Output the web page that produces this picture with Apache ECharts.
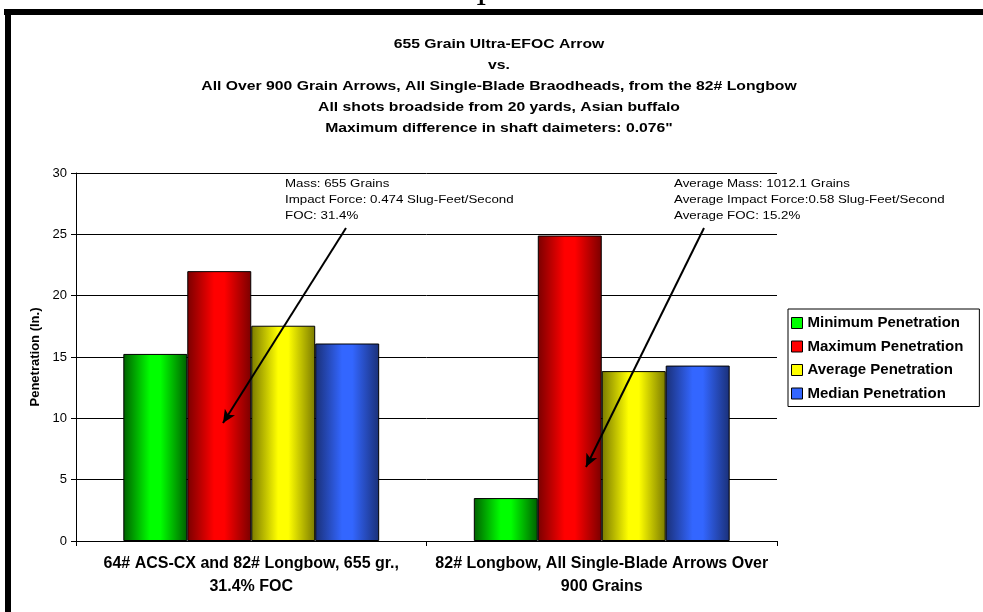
<!DOCTYPE html>
<html>
<head>
<meta charset="utf-8">
<script src="https://cdn.jsdelivr.net/npm/echarts@6/dist/echarts.min.js"></script>
<style>
html,body{margin:0;padding:0;background:#fff;}
#chart{width:983px;height:612px;}
</style>
</head>
<body>
<div id="chart"></div>
<script>
// ---- data ----
const categories = [
  '64# ACS-CX and 82# Longbow, 655 gr.,\n31.4% FOC',
  '82# Longbow, All Single-Blade Arrows Over\n900 Grains'
];
const seriesNames = ['Minimum Penetration', 'Maximum Penetration', 'Average Penetration', 'Median Penetration'];
const minimumPenetration = [15.25, 3.5];
const maximumPenetration = [22.0, 24.9];
const averagePenetration = [17.55, 13.85];
const medianPenetration = [16.1, 14.3];
const yAxisMin = 0, yAxisMax = 30, yAxisInterval = 5;
const yAxisName = 'Penetration (In.)';
const titleLines = [
  '655 Grain Ultra-EFOC Arrow',
  'vs.',
  'All Over 900 Grain Arrows, All Single-Blade Braodheads, from the 82# Longbow',
  'All shots broadside from 20 yards, Asian buffalo',
  'Maximum difference in shaft daimeters: 0.076"'
];
const noteLeft = ['Mass: 655 Grains', 'Impact Force: 0.474 Slug-Feet/Second', 'FOC: 31.4%'];
const noteRight = ['Average Mass: 1012.1 Grains', 'Average Impact Force:0.58 Slug-Feet/Second', 'Average FOC: 15.2%'];

// ---- styles ----
const palette = [
  {dark: '#006000', bright: '#00FF00'},
  {dark: '#7A0000', bright: '#FF0000'},
  {dark: '#7A7A00', bright: '#FFFF00'},
  {dark: '#1A3078', bright: '#3366FF'}
];
const values = [minimumPenetration, maximumPenetration, averagePenetration, medianPenetration];
const FONT = '"Liberation Sans", Arial, sans-serif';
const SX = 1.21;

function grad(p) {
  return new echarts.graphic.LinearGradient(0, 0, 1, 0, [
    {offset: 0, color: p.dark},
    {offset: 0.42, color: p.bright},
    {offset: 0.58, color: p.bright},
    {offset: 1, color: p.dark}
  ]);
}

const chart = echarts.init(document.getElementById('chart'), null, {renderer: 'canvas'});

const graphics = [
  {type: 'rect', shape: {x: 4, y: 9, width: 979, height: 6}, style: {fill: '#000'}, z: 100},
  {type: 'rect', shape: {x: 5, y: 9, width: 6, height: 603}, style: {fill: '#000'}, z: 100},
  {type: 'text', x: 481, y: 10, style: {text: '1', font: 'bold 22px "Liberation Serif", serif', textAlign: 'center', textVerticalAlign: 'bottom', fill: '#000'}}
];
const titleYs = [44.5, 65, 86, 107, 128];
titleLines.forEach((t, i) => {
  graphics.push({type: 'text', x: 499, y: titleYs[i], scaleX: SX,
    style: {text: t, font: 'bold 13px ' + FONT, textAlign: 'center', textVerticalAlign: 'middle', fill: '#000'}});
});
const noteYs = [184, 200, 216];
noteLeft.forEach((t, i) => {
  graphics.push({type: 'text', x: 285, y: noteYs[i], scaleX: SX,
    style: {text: t, font: '11px ' + FONT, textAlign: 'left', textVerticalAlign: 'middle', fill: '#000'}});
});
noteRight.forEach((t, i) => {
  graphics.push({type: 'text', x: 674, y: noteYs[i], scaleX: SX,
    style: {text: t, font: '11px ' + FONT, textAlign: 'left', textVerticalAlign: 'middle', fill: '#000'}});
});

const series = seriesNames.map((name, i) => {
  const s = {
    name: name,
    type: 'bar',
    data: values[i],
    barGap: '0%',
    barCategoryGap: '27%',
    itemStyle: {color: grad(palette[i]), borderColor: '#000', borderWidth: 1},
    emphasis: {disabled: true}
  };
  if (i === 0) {
    s.markLine = {
      silent: true,
      symbol: ['none', 'arrow'],
      symbolSize: [9, 13],
      label: {show: false},
      lineStyle: {color: '#000', width: 2, type: 'solid'},
      emphasis: {disabled: true},
      data: [
        [{x: 346, y: 228}, {x: 223, y: 423}],
        [{x: 704, y: 228}, {x: 586, y: 467}]
      ]
    };
  }
  return s;
});

chart.setOption({
  animation: false,
  backgroundColor: '#fff',
  textStyle: {fontFamily: FONT},
  grid: {left: 76, right: 206, top: 173, bottom: 71, containLabel: false},
  legend: {
    orient: 'vertical',
    left: 788,
    top: 309,
    padding: [6, 16, 5, 3],
    itemGap: 7.5,
    itemWidth: 11,
    itemHeight: 11,
    borderColor: '#000',
    borderWidth: 1,
    backgroundColor: '#fff',
    icon: 'rect',
    selectedMode: false,
    textStyle: {fontSize: 15, fontWeight: 'bold', color: '#000', lineHeight: 16, fontFamily: FONT},
    data: seriesNames.map((n, i) => ({
      name: n,
      itemStyle: {color: palette[i].bright, borderColor: '#000', borderWidth: 1}
    }))
  },
  xAxis: {
    type: 'category',
    data: categories,
    axisLine: {lineStyle: {color: '#000', width: 1}},
    axisTick: {show: true, length: 5, lineStyle: {color: '#000'}},
    axisLabel: {color: '#000', fontSize: 16, fontWeight: 'bold', lineHeight: 23, margin: 11, fontFamily: FONT, interval: 0},
    splitLine: {show: false}
  },
  yAxis: {
    type: 'value',
    min: yAxisMin,
    max: yAxisMax,
    interval: yAxisInterval,
    name: yAxisName,
    nameLocation: 'middle',
    nameRotate: 90,
    nameGap: 32,
    nameTextStyle: {fontSize: 13, fontWeight: 'bold', color: '#000', fontFamily: FONT},
    axisLine: {show: true, lineStyle: {color: '#000', width: 1}},
    axisTick: {show: true, length: 5, lineStyle: {color: '#000'}},
    axisLabel: {color: '#000', fontSize: 13, margin: 9, fontFamily: FONT},
    splitLine: {show: true, lineStyle: {color: '#000', width: 1}}
  },
  graphic: graphics,
  series: series
});
</script>
</body>
</html>
